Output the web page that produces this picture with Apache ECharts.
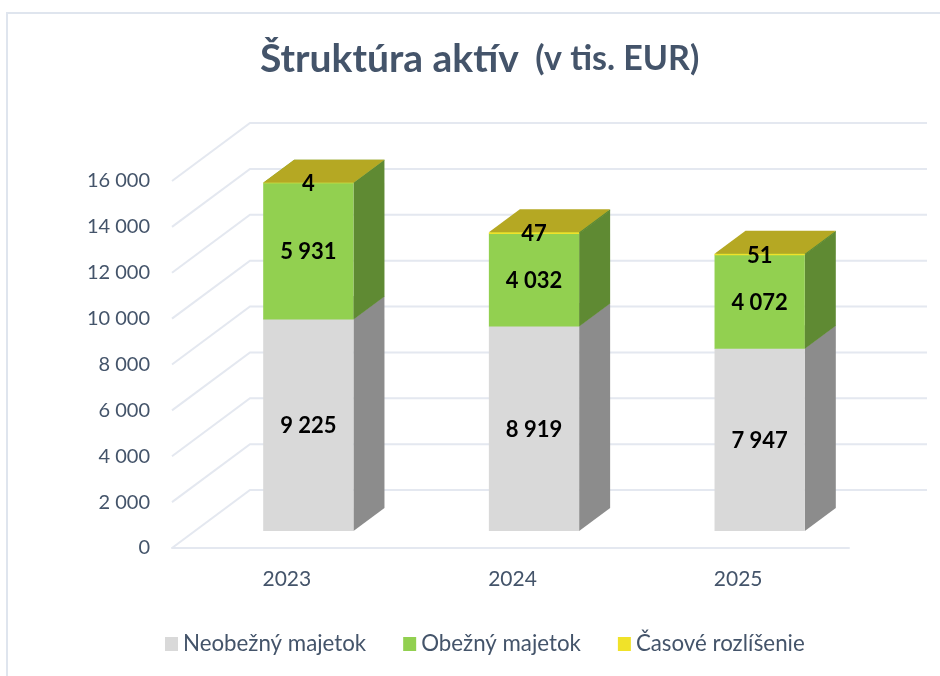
<!DOCTYPE html>
<html lang="en">
<head>
    <meta charset="UTF-8">
    <title>Štruktúra aktív</title>
    <style>
        html, body { margin: 0; padding: 0; background: #fff; }
    </style>
</head>
<body>
    <div id="card" style="width: 940px;height:676px;"></div>
    <script src="https://cdn.jsdelivr.net/npm/echarts@6/dist/echarts.min.js"></script>
    <script>
        var years = ['2023', '2024', '2025'];
        var seriesNames = ['Neobežný majetok', 'Obežný majetok', 'Časové rozlíšenie'];
        var neobezny = [9225, 8919, 7947];
        var obezny = [5931, 4032, 4072];
        var casove = [4, 47, 51];
        var yTicks = [0, 2000, 4000, 6000, 8000, 10000, 12000, 14000, 16000];

        var textColor = '#44546a';
        var font = 'Lato';

        var formatNum = function (v) {
            return String(v).replace(/\B(?=(\d{3})+$)/g, ' ');
        };

        // one stacked segment of a fake 3D column: front, side and top face
        var segment = function (faces) {
            return function (params, api) {
                var cat = api.value(0);
                var from = api.coord([cat, api.value(1)]);
                var to = api.coord([cat, api.value(2)]);
                var w = api.size([1, 0])[0] * 0.4;
                var x0 = from[0] + 23.5 - w / 2, x1 = x0 + w;
                var yb = from[1] - 17, yt = to[1] - 17.5;
                var dx = 31, dy = 23;
                return {
                    type: 'group',
                    children: [{
                        type: 'polygon',
                        shape: { points: [[x1, yb], [x1 + dx, yb - dy], [x1 + dx, yt - dy], [x1, yt]] },
                        style: { fill: faces.side }
                    }, {
                        type: 'polygon',
                        shape: { points: [[x0, yt], [x1, yt], [x1 + dx, yt - dy], [x0 + dx, yt - dy]] },
                        style: { fill: faces.top }
                    }, {
                        type: 'rect',
                        shape: { x: x0, y: yt, width: w, height: yb - yt },
                        style: { fill: faces.front }
                    }, {
                        type: 'text',
                        z2: 100,
                        style: {
                            x: (x0 + x1) / 2,
                            y: (yb + yt) / 2 + 1,
                            text: formatNum(api.value(3)),
                            align: 'center',
                            verticalAlign: 'middle',
                            fill: '#000',
                            fontFamily: font,
                            fontWeight: 'bold',
                            fontSize: 22
                        }
                    }]
                };
            };
        };

        // wall + side grid lines
        var wallLines = function (params, api) {
            var p = api.coord([0, api.value(0)]);
            var box = params.coordSys;
            var dx = 78, dy = 58;
            return {
                type: 'polyline',
                shape: {
                    points: [[box.x, p[1]], [box.x + dx, p[1] - dy], [box.x + box.width + dx, p[1] - dy]]
                },
                style: { fill: 'none', stroke: '#e4e8f0', lineWidth: 2 }
            };
        };

        var stackData = function (vals, bases) {
            return vals.map(function (v, i) {
                return [i, bases[i], bases[i] + v, v];
            });
        };

        var base2 = neobezny.map(function (v, i) { return v + obezny[i]; });
        var zeros = years.map(function () { return 0; });

        var option = {
            backgroundColor: '#fff',
            animation: false,
            title: {
                left: 255,
                top: 35,
                text: '{a|Štruktúra aktív}{b|  (v tis. EUR)}',
                textStyle: {
                    rich: {
                        a: { fontFamily: font, fontWeight: 'bold', fontSize: 39, color: textColor },
                        b: { fontFamily: font, fontWeight: 'bold', fontSize: 34, color: textColor }
                    }
                }
            },
            legend: {
                left: 160,
                top: 628,
                icon: 'rect',
                itemWidth: 13,
                itemHeight: 14,
                itemGap: 37,
                data: seriesNames,
                textStyle: { color: textColor, fontFamily: font, fontSize: 22.3 }
            },
            grid: { left: 172, top: 181, width: 677, height: 367 },
            xAxis: {
                type: 'category',
                data: years,
                axisTick: { show: false },
                axisLine: { lineStyle: { color: '#e4e8f0', width: 2 } },
                axisLabel: { color: textColor, fontFamily: font, fontSize: 21, margin: 21, padding: [0, 0, 0, 4] }
            },
            yAxis: {
                type: 'value',
                min: 0,
                max: 16000,
                interval: 2000,
                axisLine: { show: false },
                axisTick: { show: false },
                splitLine: { show: false },
                axisLabel: {
                    color: textColor,
                    fontFamily: font,
                    fontSize: 20,
                    margin: 22,
                    padding: [2, 0, 0, 0],
                    formatter: formatNum
                }
            },
            graphic: [{
                type: 'polyline',
                silent: true,
                shape: { points: [[7, 676], [7, 13], [940, 13]] },
                style: { fill: 'none', stroke: '#dfe5ee', lineWidth: 2 }
            }],
            series: [{
                type: 'custom',
                silent: true,
                renderItem: wallLines,
                encode: { y: 0 },
                data: yTicks.map(function (t) { return [t]; })
            }, {
                name: seriesNames[0],
                type: 'custom',
                itemStyle: { color: '#d9d9d9' },
                renderItem: segment({ front: '#d9d9d9', side: '#8c8c8c', top: '#b0b0b0' }),
                encode: { x: 0, y: [1, 2] },
                data: stackData(neobezny, zeros)
            }, {
                name: seriesNames[1],
                type: 'custom',
                itemStyle: { color: '#92d050' },
                renderItem: segment({ front: '#92d050', side: '#5f8a33', top: '#79ad41' }),
                encode: { x: 0, y: [1, 2] },
                data: stackData(obezny, neobezny)
            }, {
                name: seriesNames[2],
                type: 'custom',
                itemStyle: { color: '#f0e229' },
                renderItem: segment({ front: '#f0e229', side: '#5f8a33', top: '#b5a823' }),
                encode: { x: 0, y: [1, 2] },
                data: stackData(casove, base2)
            }]
        };

        var myChart = echarts.init(document.querySelector('#card'));
        myChart.setOption(option);
    </script>
</body>
</html>
